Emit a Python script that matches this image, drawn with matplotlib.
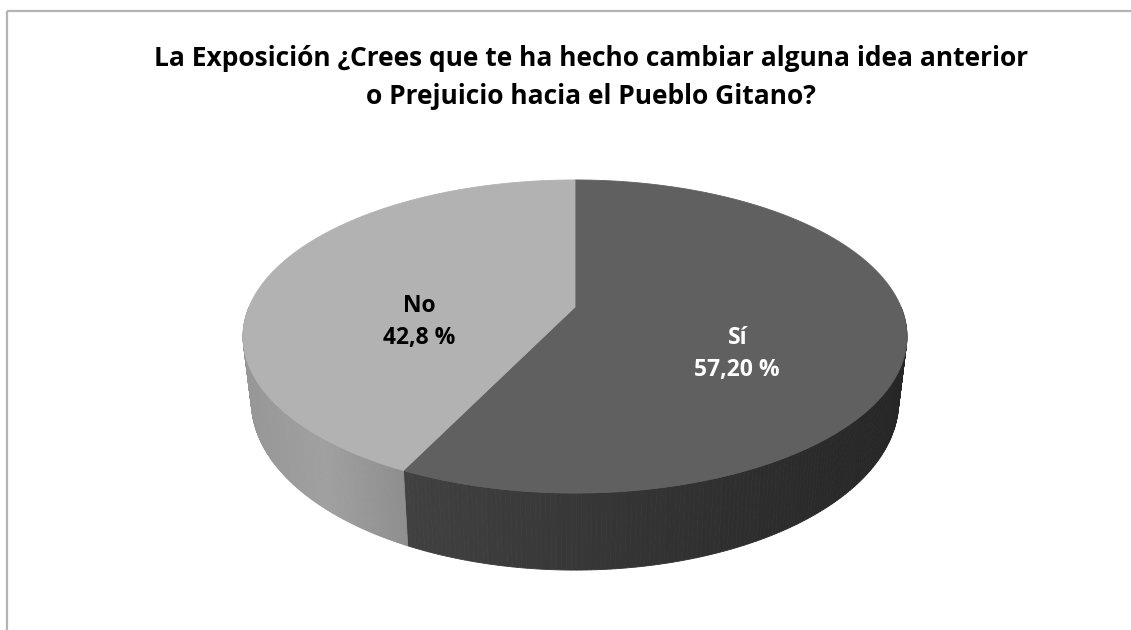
import numpy as np
import matplotlib
matplotlib.use('Agg')
import matplotlib.pyplot as plt
from matplotlib.patches import Polygon, Rectangle
from matplotlib.colors import to_rgb

# Data
categories = ['Sí', 'No']
values = [57.20, 42.8]
value_labels = ['57,20 %', '42,8 %']
title_lines = ['La Exposición ¿Crees que te ha hecho cambiar alguna idea anterior',
               'o Prejuicio hacia el Pueblo Gitano?']

# Style
top_colors = ['#606060', '#b2b2b2']
side_stops = [['#414141', '#333333', '#262626'],
              ['#979797', '#a0a0a0', '#8e8e8e']]
text_colors = ['white', 'black']
FONT = ['Open Sans', 'DejaVu Sans']

W, H = 1131, 630
# 3D pie geometry (pixels): centre of top face, radii, perspective factor, depth
CX, CY = 575, 307
A, B = 326, 151
K = 0.1885
D = 62.5
SHRINK = 0.975


def project(phi_deg, r=1.0, bottom=False):
    phi = np.radians(phi_deg)
    u = r * np.cos(phi)
    v = -r * np.sin(phi)
    s = 1.0 / (1.0 - K * v)
    x = CX + A * u * s
    y = CY + B * v * s
    if bottom:
        x = CX + (x - CX) * SHRINK
        y = y + D * s
    return x, y


def blend(stops, t):
    cols = [np.array(to_rgb(c)) for c in stops]
    seg = t * (len(cols) - 1)
    i = min(int(seg), len(cols) - 2)
    f = seg - i
    return tuple(cols[i] * (1 - f) + cols[i + 1] * f)


fig = plt.figure(figsize=(W / 100, H / 100), dpi=100)
ax = fig.add_axes([0, 0, 1, 1])
ax.set_xlim(0, W)
ax.set_ylim(H, 0)
ax.axis('off')

# chart border (top and left visible, rest cut by the crop)
ax.add_patch(Rectangle((7, 10.5), W, H, fill=False, edgecolor='#b4b4b4', linewidth=1.6))

# slice angles, start at 12 o'clock going clockwise
total = sum(values)
spans = [v / total * 360 for v in values]
starts = [90 - sum(spans[:i]) for i in range(len(values))]
ends = [s - sp for s, sp in zip(starts, spans)]

# side walls (only the front half, phi in [-180, 0])
for i in range(len(values)):
    a = min(starts[i], 0)
    b = max(ends[i], -180)
    if a <= b:
        continue
    n = 160
    phis = np.linspace(a, b, n + 1)
    xs = [project(p)[0] for p in phis]
    x0, x1 = min(xs), max(xs)
    for j in range(n):
        p1, p2 = phis[j], phis[j + 1]
        pts = [project(p1), project(p2), project(p2, bottom=True), project(p1, bottom=True)]
        xm = (pts[0][0] + pts[1][0]) / 2
        t = (xm - x0) / (x1 - x0)
        c = blend(side_stops[i], t)
        ax.add_patch(Polygon(pts, closed=True, facecolor=c, edgecolor=c, linewidth=0.6))

# top faces
for i in range(len(values)):
    phis = np.linspace(starts[i], ends[i], 300)
    pts = [(CX, CY)] + [project(p) for p in phis]
    ax.add_patch(Polygon(pts, closed=True, facecolor=top_colors[i],
                         edgecolor=top_colors[i], linewidth=0.6))

# data labels
for i in range(len(values)):
    mid = (starts[i] + ends[i]) / 2
    lx, ly = project(mid, r=0.5)
    ly += 26 if i == 0 else 28
    ax.text(lx, ly - 6, categories[i], ha='center', va='baseline', fontsize=16.5,
            fontweight='bold', color=text_colors[i], family=FONT)
    ax.text(lx, ly + 26, value_labels[i], ha='center', va='baseline', fontsize=16.5,
            fontweight='bold', color=text_colors[i], family=FONT)

# title
ax.text(591, 66.5, title_lines[0], ha='center', va='baseline', fontsize=19,
        fontweight='bold', color='black', family=FONT)
ax.text(591, 104, title_lines[1], ha='center', va='baseline', fontsize=19,
        fontweight='bold', color='black', family=FONT)

fig.savefig('out.png', dpi=100, facecolor='white')
